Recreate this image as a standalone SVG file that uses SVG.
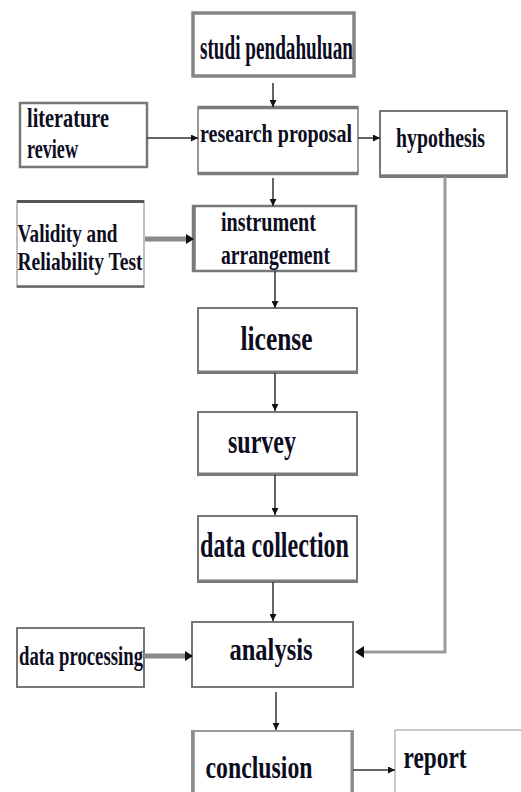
<svg xmlns="http://www.w3.org/2000/svg" width="521" height="792" viewBox="0 0 521 792">
<style>
  .box { fill: #ffffff; stroke: #777777; stroke-width: 2; }
  .edge { stroke: #7a7a7a; stroke-width: 3.5; fill: none; }
  .t { font-family: "Liberation Serif", "Times New Roman", serif; font-weight: bold; fill: #0d0d22; }
  .c { stroke: #333333; stroke-width: 1.5; fill: none; }
  .ct { stroke: #8a8a8a; stroke-width: 5; fill: none; }
  .ch { stroke: #9a9a9a; stroke-width: 3; fill: none; }
  .head { fill: #111111; }
</style>
<defs>
  <marker id="ah" viewBox="0 0 10 10" refX="10" refY="5" markerWidth="7" markerHeight="7" markerUnits="userSpaceOnUse" orient="auto">
    <path d="M0,0 L10,5 L0,10 z" fill="#111111"/>
  </marker>
</defs>
<rect width="521" height="792" fill="#ffffff"/>

<g id="studi-pendahuluan">
  <rect class="box" x="193" y="13" width="161" height="63" style="stroke:#858585;stroke-width:3.5"/>
  <text class="t" x="200" y="58.5" font-size="33" textLength="153" lengthAdjust="spacingAndGlyphs">studi pendahuluan</text>
</g>

<g id="literature-review">
  <rect class="box" x="20" y="103" width="127" height="64" style="stroke-width:2.5"/>
  <text class="t" x="27" y="126.5" font-size="28" textLength="82" lengthAdjust="spacingAndGlyphs">literature</text>
  <text class="t" x="27" y="158" font-size="28" textLength="51" lengthAdjust="spacingAndGlyphs">review</text>
</g>

<g id="research-proposal">
  <rect class="box" x="198" y="107" width="160" height="67" style="stroke-width:1.5"/>
  <line class="edge" x1="198" y1="107.5" x2="358" y2="107.5"/>
  <line class="edge" x1="198" y1="173.5" x2="358" y2="173.5"/>
  <text class="t" x="200" y="141.5" font-size="26" textLength="152" lengthAdjust="spacingAndGlyphs">research proposal</text>
</g>

<g id="hypothesis">
  <rect class="box" x="380" y="111" width="127" height="66"/>
  <line class="edge" x1="380" y1="176" x2="507" y2="176"/>
  <text class="t" x="396" y="147" font-size="28" textLength="89" lengthAdjust="spacingAndGlyphs">hypothesis</text>
</g>

<g id="validity-reliability">
  <rect class="box" x="17" y="201" width="127" height="86" style="stroke:#aaaaaa;stroke-width:1.5"/>
  <line x1="17" y1="201.5" x2="144" y2="201.5" stroke="#555555" stroke-width="3"/>
  <line x1="17" y1="286.5" x2="144" y2="286.5" stroke="#666666" stroke-width="2.5"/>
  <text class="t" x="17.5" y="241.5" font-size="25" textLength="100" lengthAdjust="spacingAndGlyphs">Validity and</text>
  <text class="t" x="17.5" y="270" font-size="25" textLength="125" lengthAdjust="spacingAndGlyphs">Reliability Test</text>
</g>

<g id="instrument-arrangement">
  <rect class="box" x="193" y="206" width="163" height="65" style="stroke-width:2.5"/>
  <line class="edge" x1="194" y1="206" x2="194" y2="271"/>
  <text class="t" x="221" y="230.5" font-size="27" textLength="95" lengthAdjust="spacingAndGlyphs">instrument</text>
  <text class="t" x="221" y="264" font-size="27" textLength="109" lengthAdjust="spacingAndGlyphs">arrangement</text>
</g>

<g id="license">
  <rect class="box" x="198" y="308" width="159" height="65"/>
  <line class="edge" x1="198" y1="372" x2="357" y2="372" style="stroke-width:3"/>
  <text class="t" x="240.5" y="350" font-size="34" textLength="72" lengthAdjust="spacingAndGlyphs">license</text>
</g>

<g id="survey">
  <rect class="box" x="198" y="412" width="159" height="63"/>
  <line class="edge" x1="198" y1="474" x2="357" y2="474" style="stroke-width:3"/>
  <text class="t" x="228" y="452.5" font-size="34" textLength="68" lengthAdjust="spacingAndGlyphs">survey</text>
</g>

<g id="data-collection">
  <rect class="box" x="198" y="516" width="159" height="66"/>
  <line class="edge" x1="198" y1="581" x2="357" y2="581" style="stroke-width:3"/>
  <text class="t" x="200" y="557" font-size="35" textLength="149" lengthAdjust="spacingAndGlyphs">data collection</text>
</g>

<g id="data-processing">
  <rect class="box" x="17" y="628" width="127" height="59"/>
  <text class="t" x="19" y="665" font-size="27" textLength="124" lengthAdjust="spacingAndGlyphs">data processing</text>
</g>

<g id="analysis">
  <rect class="box" x="192" y="622" width="161" height="65"/>
  <text class="t" x="229.5" y="660" font-size="31" textLength="83" lengthAdjust="spacingAndGlyphs">analysis</text>
</g>

<g id="conclusion">
  <rect class="box" x="192" y="731" width="161" height="75" style="stroke:#999999"/>
  <line class="edge" x1="193" y1="731" x2="193" y2="792" style="stroke:#8a8a8a"/>
  <line class="edge" x1="352" y1="731" x2="352" y2="792" style="stroke:#8a8a8a;stroke-width:3"/>
  <text class="t" x="205.5" y="778" font-size="31" textLength="107" lengthAdjust="spacingAndGlyphs">conclusion</text>
</g>

<g id="report">
  <rect x="395" y="730" width="140" height="75" fill="#ffffff" stroke="#bbbbbb" stroke-width="1.5"/>
  <text class="t" x="403.5" y="768" font-size="31" textLength="63" lengthAdjust="spacingAndGlyphs">report</text>
</g>

<g id="connectors">
  <line class="c" x1="273" y1="83" x2="273" y2="107" marker-end="url(#ah)"/>
  <line class="c" x1="147" y1="138" x2="198" y2="138" marker-end="url(#ah)"/>
  <line class="c" x1="358" y1="138" x2="380" y2="138" marker-end="url(#ah)"/>
  <line class="c" x1="273" y1="178" x2="273" y2="206" marker-end="url(#ah)"/>
  <line class="ct" x1="145" y1="239" x2="188" y2="239"/>
  <path class="head" d="M186,234 L194,239 L186,244 z"/>
  <line class="c" x1="275" y1="271" x2="275" y2="308" marker-end="url(#ah)"/>
  <line class="c" x1="275" y1="373" x2="275" y2="411" marker-end="url(#ah)"/>
  <line class="c" x1="275" y1="475" x2="275" y2="515" marker-end="url(#ah)"/>
  <line class="c" x1="273" y1="582" x2="273" y2="621" marker-end="url(#ah)"/>
  <line class="ct" x1="144" y1="656" x2="187" y2="656"/>
  <path class="head" d="M185,651 L193,656 L185,661 z"/>
  <path class="ch" d="M445,177 V652 H362"/>
  <path class="head" d="M364,646 L355,652 L364,658 z"/>
  <line class="c" x1="276" y1="692" x2="276" y2="730" marker-end="url(#ah)"/>
  <line class="c" x1="353" y1="770" x2="395" y2="770" marker-end="url(#ah)"/>
</g>
</svg>
